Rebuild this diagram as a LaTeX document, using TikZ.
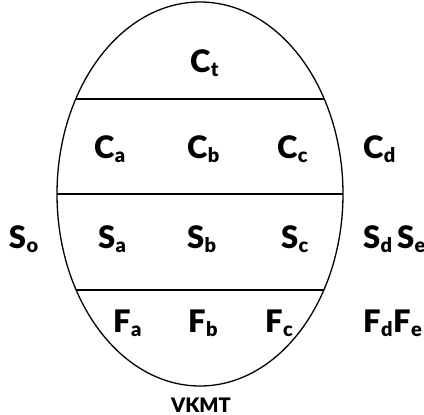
\documentclass[tikz,border=0pt]{standalone}
\usepackage{fontspec}
\setmainfont{Lato}[BoldFont=Lato Black]
% letter with a lowered subscript
\newcommand{\symsub}[2]{{\fontsize{31}{33}\selectfont\bfseries #1}\kern0.5pt\raisebox{-4.5pt}{\fontsize{20}{22}\selectfont\bfseries #2}}
\begin{document}
\begin{tikzpicture}[x=1pt,y=-1pt,
  lbl/.style={anchor=base west,inner sep=0pt,outer sep=0pt},
  divider/.style={line width=1.3pt}]
\useasboundingbox (0,0) rectangle (424,415);
\draw[line width=1.3pt] (200,194) ellipse [x radius=143, y radius=192];
% horizontal dividers
\coordinate (l1) at (76,99);  \coordinate (r1) at (324,99);
\coordinate (l2) at (57,194); \coordinate (r2) at (343,194);
\coordinate (l3) at (76,290); \coordinate (r3) at (324,290);
\draw[divider] (l1) -- (r1);
\draw[divider] (l2) -- (r2);
\draw[divider] (l3) -- (r3);
% top band
\node[lbl] (ct) at (190,72) {\symsub{C}{t}};
% C row
\node[lbl] (ca) at (94,158) {\symsub{C}{a}};
\node[lbl] (cb) at (187,158) {\symsub{C}{b}};
\node[lbl] (cc) at (277,158) {\symsub{C}{c}};
\node[lbl] (cd) at (363,158) {\symsub{C}{d}};
% S row
\node[lbl] (so) at (9,248) {\symsub{S}{o}};
\node[lbl] (sa) at (98,248) {\symsub{S}{a}};
\node[lbl] (sb) at (187,248) {\symsub{S}{b}};
\node[lbl] (sc) at (281,248) {\symsub{S}{c}};
\node[lbl] (sd) at (363,248) {\symsub{S}{d}};
\node[lbl] (se) at (397,248) {\symsub{S}{e}};
% F row
\node[lbl] (fa) at (113,332) {\symsub{F}{a}};
\node[lbl] (fb) at (188,332) {\symsub{F}{b}};
\node[lbl] (fc) at (265,332) {\symsub{F}{c}};
\node[lbl] (fd) at (363,332) {\symsub{F}{d}};
\node[lbl] (fe) at (393,332) {\symsub{F}{e}};
% caption
\node[anchor=base,inner sep=0pt] (vkmt) at (201,412) {\fontsize{20}{22}\selectfont\bfseries VKMT};
\end{tikzpicture}
\end{document}
